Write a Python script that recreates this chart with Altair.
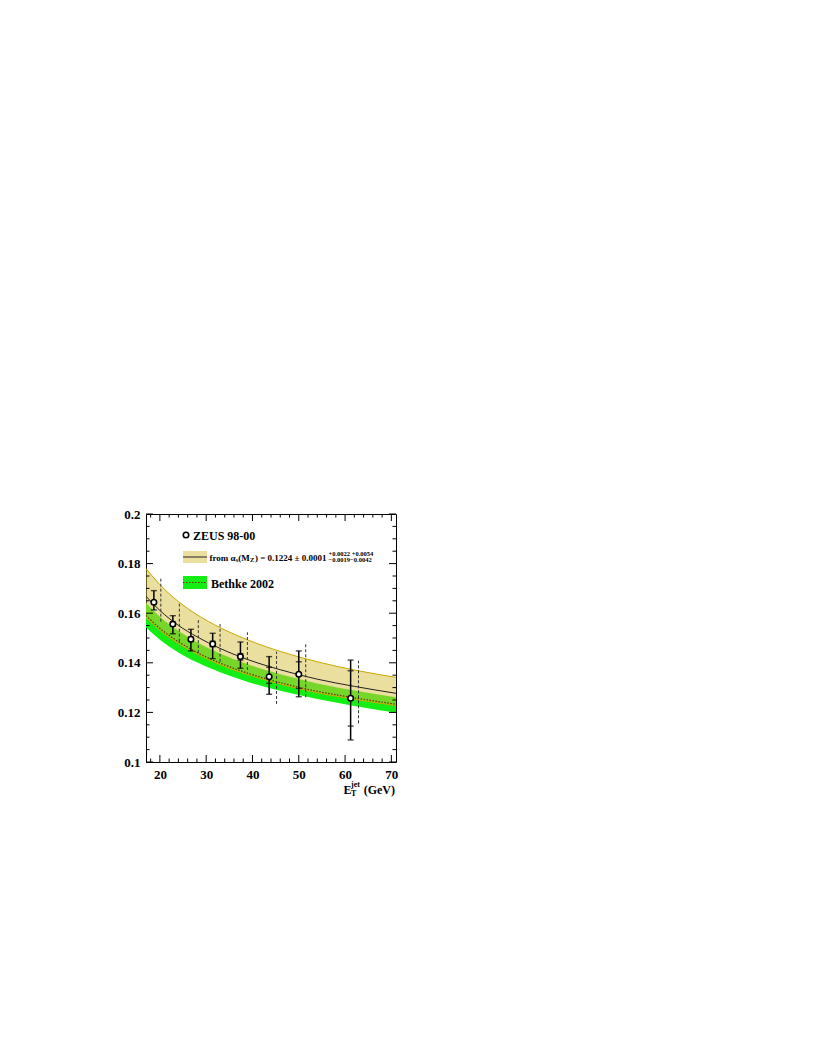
import altair as alt
import pandas as pd

# ---------------- data ----------------
band_x = [17, 20, 24, 28, 33, 39, 46, 54, 62, 71]
fit_central = [0.1668, 0.1611, 0.1551, 0.1505, 0.1458, 0.1413, 0.1372, 0.1334, 0.1305, 0.1277]
fit_upper = [0.1780, 0.1715, 0.1647, 0.1594, 0.1542, 0.1492, 0.1446, 0.1404, 0.1371, 0.1341]
fit_lower = [0.1582, 0.1531, 0.1477, 0.1435, 0.1392, 0.1352, 0.1314, 0.1279, 0.1253, 0.1227]
bethke_central = [0.1591, 0.1539, 0.1485, 0.1442, 0.1399, 0.1358, 0.1320, 0.1285, 0.1259, 0.1233]
bethke_upper = [0.1641, 0.1586, 0.1529, 0.1483, 0.1438, 0.1394, 0.1354, 0.1317, 0.1288, 0.1261]
bethke_lower = [0.1542, 0.1493, 0.1442, 0.1402, 0.1362, 0.1323, 0.1287, 0.1254, 0.1226, 0.1199]

pts_x = [18.7, 22.8, 26.7, 31.4, 37.4, 43.6, 50.0, 61.2]
pts_y = [0.1644, 0.1556, 0.1495, 0.1476, 0.1425, 0.1344, 0.1354, 0.1257]
tot_hi = [0.1691, 0.1590, 0.1535, 0.1519, 0.1484, 0.1425, 0.1448, 0.1411]
tot_lo = [0.1613, 0.1517, 0.1448, 0.1417, 0.1378, 0.1273, 0.1263, 0.1089]
stat_hi = [0.1650, 0.1563, 0.1504, 0.1487, 0.1437, 0.1382, 0.1404, 0.1368]
stat_lo = [0.1638, 0.1549, 0.1486, 0.1465, 0.1411, 0.1317, 0.1297, 0.1145]
th_x = [20.2, 24.2, 28.3, 33.0, 38.9, 45.2, 51.5, 62.9]
th_hi = [0.1745, 0.1640, 0.1575, 0.1556, 0.1523, 0.1445, 0.1481, 0.1408]
th_lo = [0.1566, 0.1485, 0.1439, 0.1404, 0.1371, 0.1234, 0.1261, 0.1156]

x_labels = [20, 30, 40, 50, 60, 70]
x_minor = [18, 22, 24, 26, 28, 32, 34, 36, 38, 42, 44, 46, 48, 52, 54, 56, 58, 62, 64, 66, 68]
y_labels = [0.1, 0.12, 0.14, 0.16, 0.18, 0.2]
y_minor = [0.105, 0.11, 0.115, 0.125, 0.13, 0.135, 0.145, 0.15, 0.155,
           0.165, 0.17, 0.175, 0.185, 0.19, 0.195]

# ---------------- styling ----------------
W, H = 250, 248
FONT = "Liberation Serif"
GREEN = "#14ee14"
YEL = "#d8c040"
YEL_OP = 0.5
GOLD = "#c9a800"

band_df = pd.DataFrame({"x": band_x, "fc": fit_central, "fu": fit_upper, "fl": fit_lower,
                        "bc": bethke_central, "bu": bethke_upper, "bl": bethke_lower})
pts_df = pd.DataFrame({"x": pts_x, "y": pts_y, "thi": tot_hi, "tlo": tot_lo,
                       "shi": stat_hi, "slo": stat_lo})
th_df = pd.DataFrame({"x": th_x, "hi": th_hi, "lo": th_lo})

xs = alt.Scale(domain=[17, 71], nice=False, zero=False)
ys = alt.Scale(domain=[0.1, 0.2], nice=False, zero=False)

x_axis = alt.Axis(values=x_labels, format="d", ticks=False, domain=False, grid=False,
                  labelFont=FONT, labelFontWeight="bold", labelFontSize=13,
                  labelPadding=6, labelColor="black", title=None)
y_axis = alt.Axis(values=y_labels, format=".2~f", ticks=False, domain=False, grid=False,
                  labelFont=FONT, labelFontWeight="bold", labelFontSize=13,
                  labelPadding=6, labelColor="black", title=None)


def X(f):
    return alt.X(f, type="quantitative", scale=xs, axis=x_axis, title=None)


def Y(f):
    return alt.Y(f, type="quantitative", scale=ys, axis=y_axis, title=None)


base = alt.Chart(band_df)
green = base.mark_area(color=GREEN, interpolate="monotone", clip=True).encode(
    x=X("x"), y=Y("bl"), y2=alt.Y2("bu"))
yellow = base.mark_area(color=YEL, opacity=YEL_OP, interpolate="monotone", clip=True).encode(
    x=X("x"), y=Y("fl"), y2=alt.Y2("fu"))
edge_u = base.mark_line(color=GOLD, strokeWidth=1, interpolate="monotone", clip=True).encode(
    x=X("x"), y=Y("fu"))
edge_l = base.mark_line(color=GOLD, strokeWidth=1, interpolate="monotone", clip=True).encode(
    x=X("x"), y=Y("fl"))
central = base.mark_line(color="#222222", strokeWidth=1, interpolate="monotone", clip=True).encode(
    x=X("x"), y=Y("fc"))
dotted = base.mark_line(color="#6a3000", strokeWidth=1.2, strokeDash=[1.5, 1.5],
                        interpolate="monotone", clip=True).encode(x=X("x"), y=Y("bc"))

pbase = alt.Chart(pts_df)
tot_bar = pbase.mark_rule(color="black", strokeWidth=1.5).encode(
    x=X("x"), y=Y("tlo"), y2=alt.Y2("thi"))
caps = []
for f in ["thi", "tlo", "shi", "slo"]:
    caps.append(pbase.mark_tick(color="black", orient="horizontal", size=6, thickness=1.4).encode(
        x=X("x"), y=Y(f)))
th_bar = alt.Chart(th_df).mark_rule(color="#333333", strokeWidth=1, strokeDash=[3, 2]).encode(
    x=X("x"), y=Y("lo"), y2=alt.Y2("hi"))
points = pbase.mark_point(shape="circle", filled=True, fill="white", stroke="black",
                          strokeWidth=1.6, size=30, opacity=1).encode(x=X("x"), y=Y("y"))

# inward ticks on all four sides
xmaj = pd.DataFrame({"t": x_labels})
xmin = pd.DataFrame({"t": x_minor})
ymaj = pd.DataFrame({"t": y_labels})
ymin = pd.DataFrame({"t": y_minor})
tick_layers = []
for df, ln in [(xmaj, 7), (xmin, 3.5)]:
    tick_layers.append(alt.Chart(df).mark_rule(color="black", strokeWidth=1).encode(
        x=X("t"), y=alt.value(H), y2=alt.value(H - ln)))
    tick_layers.append(alt.Chart(df).mark_rule(color="black", strokeWidth=1).encode(
        x=X("t"), y=alt.value(0), y2=alt.value(ln)))
for df, ln in [(ymaj, 7), (ymin, 3.5)]:
    tick_layers.append(alt.Chart(df).mark_rule(color="black", strokeWidth=1).encode(
        y=Y("t"), x=alt.value(0), x2=alt.value(ln)))
    tick_layers.append(alt.Chart(df).mark_rule(color="black", strokeWidth=1).encode(
        y=Y("t"), x=alt.value(W), x2=alt.value(W - ln)))

# legend and axis title (annotation marks)
one = alt.Chart(pd.DataFrame({"a": [0]}))


def txt(s, x, y, size, weight="bold", align="left"):
    return one.mark_text(font=FONT, fontSize=size, fontWeight=weight, align=align,
                         baseline="middle", color="black").encode(
        x=alt.value(x), y=alt.value(y), text=alt.value(s))


legend = [
    one.mark_point(shape="circle", filled=True, fill="white", stroke="black", strokeWidth=1.6,
                   size=30, opacity=1).encode(x=alt.value(40), y=alt.value(21)),
    txt("ZEUS 98-00", 47, 21.5, 12),
    one.mark_rect(color=YEL, opacity=YEL_OP).encode(
        x=alt.value(37), x2=alt.value(61), y=alt.value(37), y2=alt.value(49)),
    one.mark_rule(color="#222222", strokeWidth=1).encode(
        x=alt.value(37), x2=alt.value(61), y=alt.value(43)),
    txt("from α", 89.6, 43.5, 9, align="right"),
    txt("s", 92.4, 46.2, 6.5, align="right"),
    txt("(M", 103.8, 43.5, 9, align="right"),
    txt("Z", 108.3, 46.2, 6.5, align="right"),
    txt(") = 0.1224 ± 0.0001", 180.5, 43.5, 9, align="right"),
    txt("+0.0022 +0.0054", 182.5, 40.0, 6.5),
    txt("−0.0019−0.0042", 182.5, 46.2, 6.5),
    one.mark_rect(color=GREEN).encode(
        x=alt.value(37), x2=alt.value(61), y=alt.value(62), y2=alt.value(75)),
    one.mark_rule(color="#6a3000", strokeWidth=1.2, strokeDash=[1.5, 1.5]).encode(
        x=alt.value(37), x2=alt.value(61), y=alt.value(68.5)),
    txt("Bethke 2002", 65, 69.5, 12),
    # x-axis title  E_T^jet (GeV)
    txt("E", 197.5, 275.5, 12),
    txt("jet", 205, 270.5, 8),
    txt("T", 205, 279.5, 8),
    txt("(GeV)", 249, 275.5, 12, align="right"),
]

chart = alt.layer(
    green, yellow, edge_u, edge_l, central, dotted,
    th_bar, tot_bar, *caps, points, *tick_layers, *legend
).properties(
    width=W, height=H,
    padding={"left": 138, "top": 506, "right": 40, "bottom": 60},
    autosize=alt.AutoSizeParams(type="none"),
).configure_view(stroke="black", strokeWidth=1)

chart.save("out.html", embed_options={"renderer": "svg", "actions": False})
